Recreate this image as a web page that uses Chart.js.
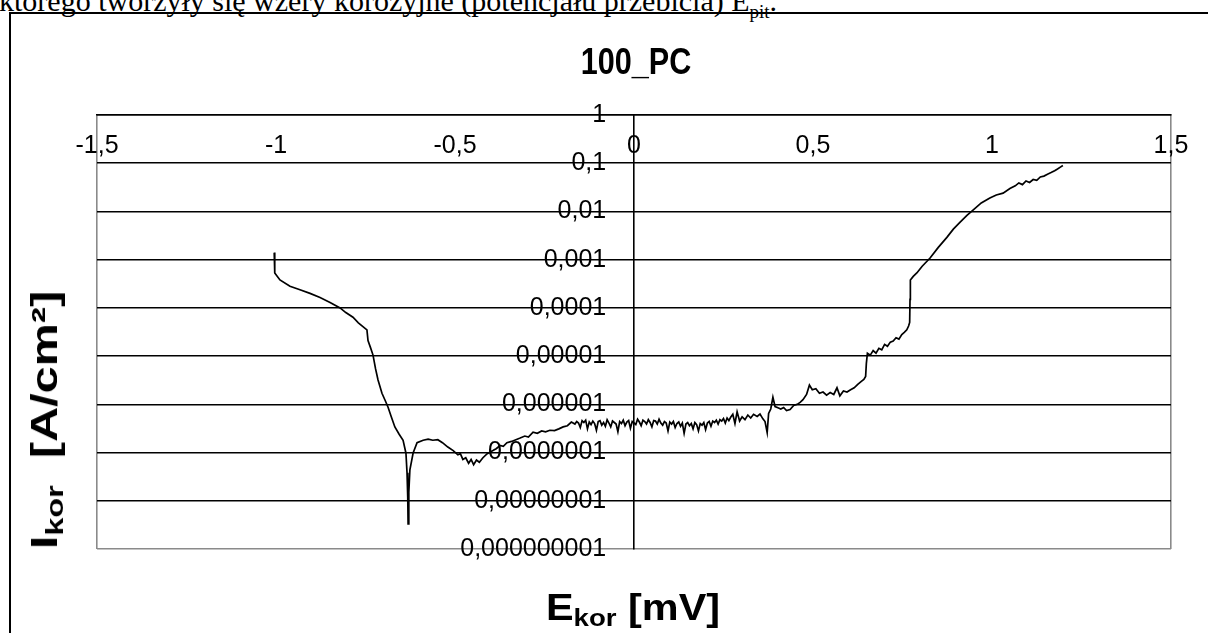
<!DOCTYPE html>
<html>
<head>
<meta charset="utf-8">
<script src="https://cdn.jsdelivr.net/npm/chart.js@4.4.1/dist/chart.umd.min.js"></script>
<style>
  html, body { margin: 0; padding: 0; background: #fff; }
  #page { position: relative; width: 1208px; height: 633px; overflow: hidden; font-family: 'Liberation Sans', Arial, sans-serif; color: #000; }
  #intro { position: absolute; left: -1px; top: -14px; font-family: 'Liberation Serif', 'Times New Roman', serif; font-size: 30px; line-height: 30px; white-space: nowrap; }
  #intro sub { font-size: 19px; line-height: 0; }
  #frame { position: absolute; left: 9px; top: 12px; width: 1300px; height: 700px; border: 2px solid #000; box-sizing: border-box; }
  #chartWrap { position: absolute; left: 0; top: 0; width: 1208px; height: 633px; }
  .lbl { position: absolute; font-weight: bold; font-size: 36px; line-height: 36px; white-space: nowrap; }
  .lbl sub { font-size: 24px; line-height: 0; vertical-align: -6px; }
  #title { left: 636px; top: 44px; transform: translateX(-50%) scaleX(0.85); }
  #xTitle { left: 633px; top: 590px; transform: translateX(-50%) scaleX(1.15); }
  #yTitle { left: 45px; top: 420px; transform: translate(-50%, -50%) rotate(-90deg) scaleX(1.35); }
</style>
</head>
<body>
<div id="page">
  <div id="intro">którego tworzyły się wżery korozyjne (potencjału przebicia) E<sub>pit</sub>.</div>
  <div id="frame"></div>
  <div id="chartWrap"><canvas id="polChart"></canvas></div>
  <div class="lbl" id="title">100_PC</div>
  <div class="lbl" id="xTitle">E<sub>kor</sub> [mV]</div>
  <div class="lbl" id="yTitle">I<sub>kor</sub>&nbsp; [A/cm²]</div>
</div>
<script>
// Polarisation curve 100_PC: potential vs corrosion current density
const potential = [
  -1.005, -1.004, -1.003, -0.989, -0.961, -0.935, -0.905, -0.877, -0.849, -0.821,
  -0.805, -0.785, -0.770, -0.746, -0.743, -0.736, -0.729, -0.722, -0.715, -0.710,
  -0.704, -0.695, -0.687, -0.678, -0.668, -0.656, -0.645, -0.637, -0.634, -0.632,
  -0.631, -0.629, -0.626, -0.617, -0.606, -0.589, -0.575, -0.562, -0.548, -0.535,
  -0.520, -0.505, -0.492, -0.485, -0.478, -0.470, -0.462, -0.455, -0.448, -0.440,
  -0.432, -0.422, -0.410, -0.394, -0.385, -0.374, -0.365, -0.355, -0.342, -0.330,
  -0.318, -0.305, -0.295, -0.282, -0.270, -0.258, -0.247, -0.235, -0.222, -0.210,
  -0.198, -0.186, -0.175,
  -0.165, -0.160, -0.155, -0.150, -0.145, -0.140, -0.135, -0.130, -0.125, -0.120,
  -0.115, -0.110, -0.105, -0.100, -0.095, -0.090, -0.085, -0.080, -0.075, -0.070,
  -0.065, -0.060, -0.055, -0.050, -0.045, -0.040, -0.035, -0.030, -0.025, -0.020,
  -0.015, -0.010, -0.005, 0.000, 0.005, 0.010, 0.015, 0.020, 0.025, 0.030,
  0.035, 0.040, 0.045, 0.050, 0.055, 0.060, 0.065, 0.070, 0.075, 0.080,
  0.085, 0.090, 0.095, 0.100, 0.105, 0.110, 0.115, 0.120, 0.125, 0.130,
  0.135, 0.140, 0.145, 0.150, 0.155, 0.160, 0.165, 0.170, 0.175, 0.180,
  0.185, 0.190, 0.195, 0.200, 0.205, 0.210, 0.215, 0.220, 0.225, 0.230,
  0.235, 0.240, 0.245, 0.250, 0.255, 0.260, 0.265, 0.270,
  0.276, 0.282, 0.288, 0.295, 0.302, 0.310, 0.318, 0.326, 0.334, 0.344,
  0.352, 0.360, 0.366, 0.372, 0.376, 0.382, 0.388, 0.394, 0.402, 0.410,
  0.418, 0.426, 0.436, 0.446, 0.456, 0.464, 0.472, 0.482, 0.490, 0.498,
  0.508, 0.518, 0.528, 0.538, 0.548, 0.558, 0.567, 0.575, 0.585, 0.595,
  0.605, 0.615, 0.625, 0.635, 0.642, 0.647, 0.649, 0.652, 0.660, 0.668,
  0.676, 0.684, 0.692, 0.700, 0.708, 0.716, 0.724, 0.732, 0.740, 0.748,
  0.755, 0.762, 0.767, 0.770, 0.771, 0.772, 0.780, 0.790, 0.805, 0.827,
  0.850, 0.874, 0.892, 0.911, 0.930, 0.947, 0.970, 0.994, 1.012, 1.031,
  1.050, 1.065, 1.075, 1.085, 1.095, 1.105, 1.115, 1.125, 1.135, 1.145,
  1.155, 1.165, 1.175, 1.183, 1.192, 1.198
];
const current = [
  1.40e-3, 9.0e-4, 5.3e-4, 3.8e-4, 2.8e-4, 2.4e-4, 2.0e-4, 1.65e-4, 1.3e-4, 1.0e-4,
  8.0e-5, 6.4e-5, 4.9e-5, 3.5e-5, 2.1e-5, 1.5e-5, 1.05e-5, 5.5e-6, 3.2e-6, 2.4e-6,
  1.7e-6, 1.2e-6, 8.7e-7, 5.5e-7, 3.4e-7, 2.4e-7, 1.8e-7, 9.7e-8, 3.8e-8, 1.2e-8,
  3.3e-9, 1.5e-8, 4.4e-8, 9.8e-8, 1.6e-7, 1.8e-7, 1.9e-7, 1.8e-7, 1.85e-7, 1.6e-7,
  1.3e-7, 1.1e-7, 9.0e-8, 9.5e-8, 7.2e-8, 7.8e-8, 6.0e-8, 7.2e-8, 5.6e-8, 7.0e-8,
  6.3e-8, 7.8e-8, 9.5e-8, 1.1e-7, 1.2e-7, 1.4e-7, 1.35e-7, 1.6e-7, 1.7e-7, 1.85e-7,
  2.0e-7, 2.2e-7, 2.1e-7, 2.65e-7, 2.5e-7, 2.8e-7, 2.7e-7, 2.9e-7, 2.85e-7, 3.1e-7,
  3.4e-7, 3.6e-7, 4.3e-7,
  3.9e-7, 4.4e-7, 4.1e-7, 3.3e-7, 4.6e-7, 4.2e-7, 4.7e-7, 3.1e-7, 4.3e-7, 3.8e-7,
  4.5e-7, 4.0e-7, 2.9e-7, 4.4e-7, 4.6e-7, 3.7e-7, 4.2e-7, 3.5e-7, 4.8e-7, 4.1e-7,
  3.4e-7, 4.5e-7, 4.2e-7, 3.9e-7, 2.7e-7, 4.4e-7, 4.0e-7, 4.7e-7, 3.6e-7, 4.3e-7,
  4.6e-7, 3.2e-7, 4.4e-7, 4.1e-7, 3.8e-7, 4.9e-7, 4.3e-7, 3.6e-7, 4.7e-7, 4.4e-7,
  3.9e-7, 4.8e-7, 4.2e-7, 3.4e-7, 4.6e-7, 4.5e-7, 3.9e-7, 4.9e-7, 4.1e-7, 3.7e-7,
  4.4e-7, 4.1e-7, 2.8e-7, 4.3e-7, 3.9e-7, 4.4e-7, 3.3e-7, 4.0e-7, 4.3e-7, 3.5e-7,
  4.1e-7, 2.5e-7, 3.9e-7, 4.2e-7, 3.6e-7, 4.0e-7, 3.1e-7, 4.2e-7, 3.8e-7, 2.8e-7,
  4.0e-7, 3.7e-7, 4.2e-7, 3.0e-7, 4.1e-7, 4.4e-7, 3.5e-7, 4.5e-7, 4.2e-7, 4.7e-7,
  3.9e-7, 4.8e-7, 4.5e-7, 5.1e-7, 4.1e-7, 5.2e-7, 4.6e-7, 5.4e-7,
  6.2e-7, 4.0e-7, 7.0e-7, 4.5e-7, 5.5e-7, 4.8e-7, 6.0e-7, 5.2e-7, 6.2e-7, 5.6e-7,
  6.3e-7, 5.0e-7, 4.4e-7, 2.6e-7, 6.5e-7, 8.0e-7, 1.4e-6, 9.0e-7, 8.5e-7, 8.0e-7,
  8.6e-7, 7.4e-7, 7.8e-7, 9.5e-7, 1.0e-6, 1.1e-6, 1.25e-6, 1.6e-6, 2.5e-6, 2.0e-6,
  2.1e-6, 1.7e-6, 1.8e-6, 1.55e-6, 1.75e-6, 1.6e-6, 2.2e-6, 1.5e-6, 1.9e-6, 1.8e-6,
  2.0e-6, 2.2e-6, 2.6e-6, 3.0e-6, 3.3e-6, 3.8e-6, 7.0e-6, 1.15e-5, 1.05e-5, 1.3e-5,
  1.15e-5, 1.45e-5, 1.35e-5, 1.75e-5, 1.6e-5, 1.95e-5, 2.05e-5, 2.4e-5, 2.25e-5, 2.8e-5,
  3.1e-5, 3.5e-5, 4.2e-5, 5.0e-5, 1.5e-4, 3.8e-4, 4.5e-4, 5.3e-4, 7.3e-4, 1.08e-3,
  1.8e-3, 2.9e-3, 4.3e-3, 6.0e-3, 8.3e-3, 1.07e-2, 1.5e-2, 1.9e-2, 2.2e-2, 2.4e-2,
  3.0e-2, 3.4e-2, 3.9e-2, 3.6e-2, 4.3e-2, 4.0e-2, 4.6e-2, 4.4e-2, 5.2e-2, 5.4e-2,
  5.9e-2, 6.4e-2, 7.0e-2, 7.6e-2, 8.4e-2, 9.0e-2
];

// Axis ticks
const xTickValues = [-1.5, -1, -0.5, 0, 0.5, 1, 1.5];
const xTickLabels = ['-1,5', '-1', '-0,5', '0', '0,5', '1', '1,5'];
const yTickValues = [1e-9, 1e-8, 1e-7, 1e-6, 1e-5, 1e-4, 1e-3, 1e-2, 1e-1, 1];
const yTickLabels = ['0,000000001', '0,00000001', '0,0000001', '0,000001', '0,00001',
                     '0,0001', '0,001', '0,01', '0,1', '1'];

const points = potential.map((e, i) => ({ x: e, y: current[i] }));

const tickFont = { family: "'Liberation Sans', Arial, sans-serif", size: 25 };

const ctx = document.getElementById('polChart').getContext('2d');
new Chart(ctx, {
    type: 'scatter',
    data: {
        datasets: [{
            data: points,
            showLine: true,
            borderColor: '#000',
            borderWidth: 1.7,
            pointRadius: 0,
            tension: 0,
            fill: false
        }]
    },
    options: {
        responsive: true,
        maintainAspectRatio: false,
        animation: false,
        layout: {
            padding: { left: 97, right: 37, top: 115, bottom: 84 }
        },
        plugins: {
            legend: { display: false },
            tooltip: { enabled: false }
        },
        scales: {
            x: {
                type: 'linear',
                min: -1.5,
                max: 1.5,
                position: { y: 1 },
                afterBuildTicks: function(axis) {
                    axis.ticks = xTickValues.map(v => ({ value: v }));
                },
                ticks: {
                    font: tickFont,
                    color: '#000',
                    padding: 16,
                    maxRotation: 0,
                    autoSkip: false,
                    callback: function(value, index) {
                        return xTickLabels[index];
                    }
                },
                grid: {
                    drawTicks: false,
                    lineWidth: 1.6,
                    color: function(c) {
                        const n = xTickValues.length - 1;
                        return (c.index === 0 || c.index === n) ? '#8a8a8a' : 'rgba(0,0,0,0)';
                    }
                },
                border: { display: true, color: '#000', width: 1.6 }
            },
            y: {
                type: 'logarithmic',
                min: 1e-9,
                max: 1,
                position: { x: 0 },
                afterBuildTicks: function(axis) {
                    axis.ticks = yTickValues.map(v => ({ value: v, major: true }));
                },
                ticks: {
                    font: tickFont,
                    color: '#000',
                    autoSkip: false,
                    callback: function(value, index) {
                        return yTickLabels[index] + '    ';
                    }
                },
                grid: {
                    drawTicks: false,
                    lineWidth: 1.6,
                    color: function(c) {
                        return c.index === 0 ? '#8a8a8a' : '#000';
                    }
                },
                border: { display: true, color: '#000', width: 1.6 }
            }
        }
    }
});
</script>
</body>
</html>
